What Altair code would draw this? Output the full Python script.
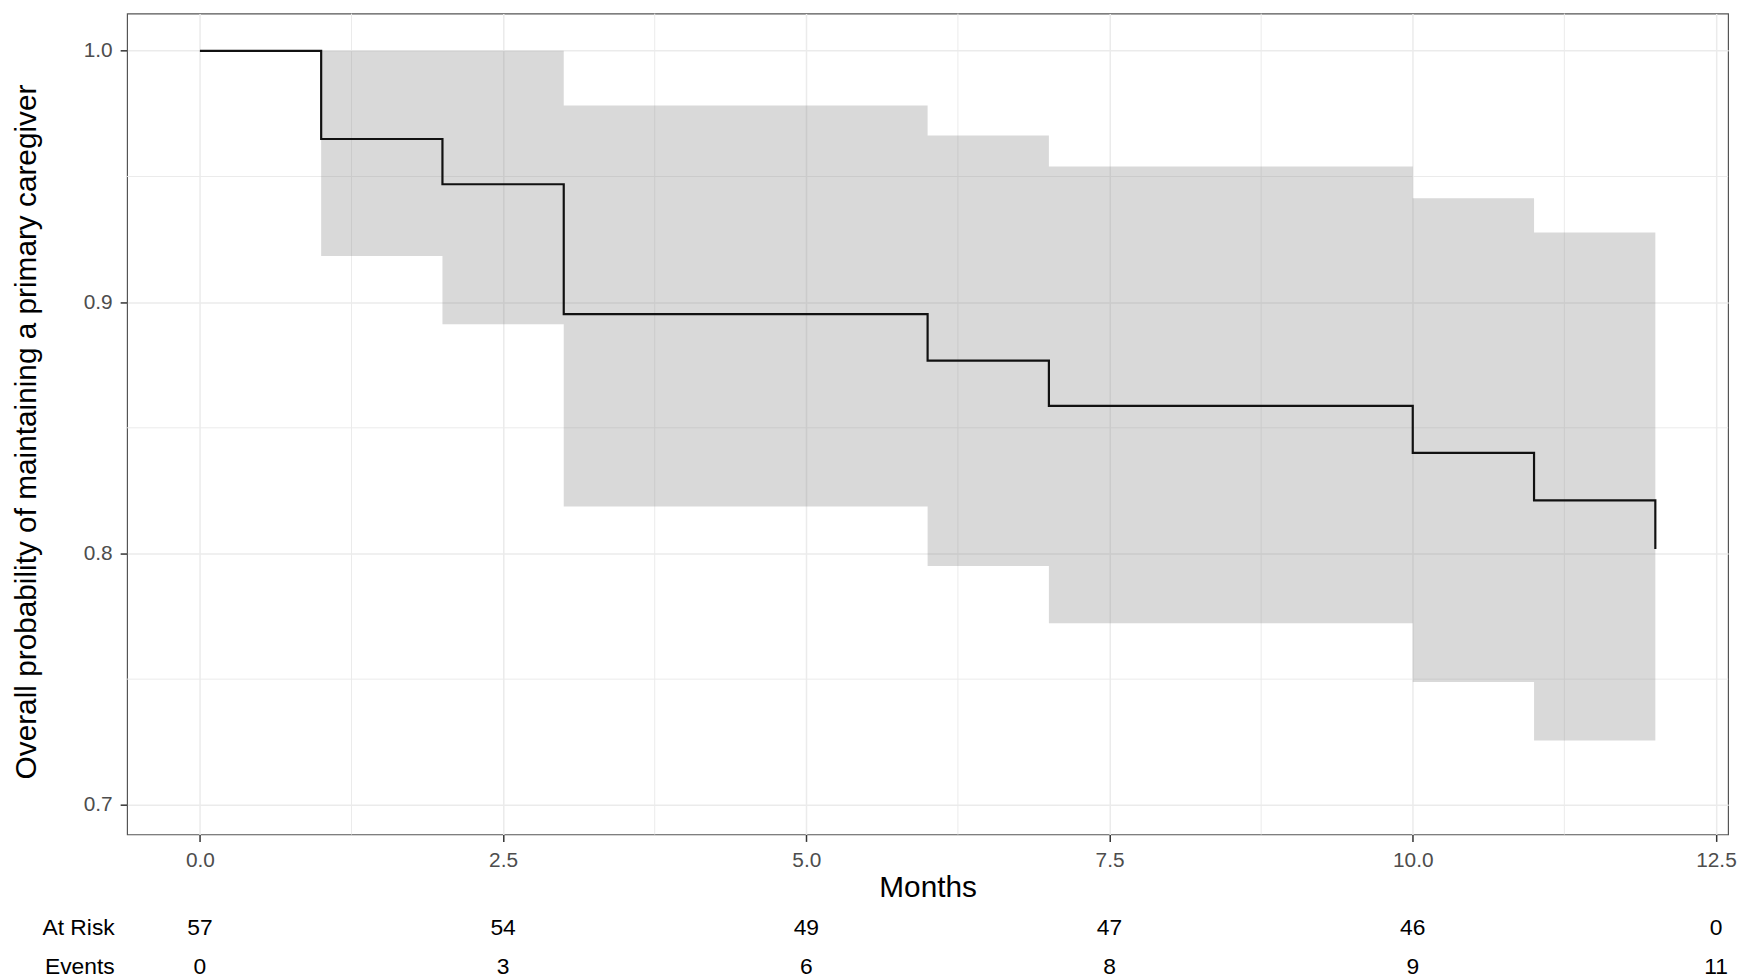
import altair as alt
import pandas as pd

# ---- data ----
time = [0, 1, 2, 3, 6, 7, 10, 11, 12]
surv = [1.0, 0.9649, 0.9469, 0.8952, 0.8767, 0.8587, 0.8400, 0.8211, 0.8018]

band_time = [1, 2, 3, 6, 7, 10, 11, 12]
lower = [0.9184, 0.8912, 0.8187, 0.7950, 0.7722, 0.7489, 0.7256, 0.7256]
upper = [1.0, 1.0, 0.9782, 0.9663, 0.9540, 0.9413, 0.9277, 0.9277]

x_ticks = [0, 2.5, 5, 7.5, 10, 12.5]
y_ticks = [0.7, 0.8, 0.9, 1.0]
minor_x = [1.25, 3.75, 6.25, 8.75, 11.25]
minor_y = [0.75, 0.85, 0.95]

table_x = [0, 2.5, 5, 7.5, 10, 12.5]
at_risk = [57, 54, 49, 47, 46, 0]
events = [0, 3, 6, 8, 9, 11]
row_names = ["At Risk", "Events"]

FONT = "Liberation Sans"

x_scale = alt.Scale(domain=[-0.6, 12.6], nice=False, zero=False)
y_scale = alt.Scale(domain=[0.6882, 1.0148], nice=False, zero=False)

x_axis = alt.Axis(
    values=x_ticks, format=".1f", title="Months", grid=True,
    gridColor="#EBEBEB", gridWidth=1.5, domain=False,
    tickColor="#333333", tickWidth=1.5, tickSize=7, labelPadding=8,
    labelFontSize=21, labelColor="#4D4D4D", labelFont=FONT, labelFlush=False,
    titleFont=FONT, titleFontSize=30, titleFontWeight="normal",
    titleColor="#000000", titleY=39, titleBaseline="top",
)
y_axis = alt.Axis(
    values=y_ticks, format=".1f",
    title="Overall probability of maintaining a primary caregiver",
    grid=True, gridColor="#EBEBEB", gridWidth=1.5, domain=False,
    tickColor="#333333", tickWidth=1.5, tickSize=7, labelPadding=8,
    labelFontSize=21, labelColor="#4D4D4D", labelFont=FONT,
    titleFont=FONT, titleFontSize=30, titleFontWeight="normal",
    titleColor="#000000", titleX=-86, titleY=421,
)

line_df = pd.DataFrame({"month": time, "surv": surv})
band_df = pd.DataFrame({"month": band_time, "lower": lower, "upper": upper})
minor_x_df = pd.DataFrame({"month": minor_x})
minor_y_df = pd.DataFrame({"surv": minor_y})

minor_v = alt.Chart(minor_x_df).mark_rule(color="#EBEBEB", strokeWidth=1).encode(
    x=alt.X("month:Q", scale=x_scale, axis=x_axis)
)
minor_h = alt.Chart(minor_y_df).mark_rule(color="#EBEBEB", strokeWidth=1).encode(
    y=alt.Y("surv:Q", scale=y_scale, axis=y_axis)
)
band = alt.Chart(band_df).mark_area(
    interpolate="step-after", color="#808080", fillOpacity=0.3
).encode(
    x=alt.X("month:Q", scale=x_scale, axis=x_axis),
    y=alt.Y("lower:Q", scale=y_scale, axis=y_axis),
    y2="upper:Q",
)
line = alt.Chart(line_df).mark_line(
    interpolate="step-after", color="#111111", strokeWidth=2.2
).encode(
    x=alt.X("month:Q", scale=x_scale, axis=x_axis),
    y=alt.Y("surv:Q", scale=y_scale, axis=y_axis),
)

main = alt.layer(minor_v, minor_h, band, line).properties(
    width=1613, height=827,
    view=alt.ViewBackground(stroke="#555555", strokeWidth=1.2),
)

table_df = pd.DataFrame({
    "month": table_x + table_x,
    "row": [row_names[0]] * len(table_x) + [row_names[1]] * len(table_x),
    "value": at_risk + events,
})
table = alt.Chart(table_df).mark_text(
    fontSize=23, font=FONT, color="#000000", baseline="middle", align="center"
).encode(
    x=alt.X("month:Q", scale=x_scale, axis=None),
    y=alt.Y("row:N", sort=row_names,
            scale=alt.Scale(type="point", padding=0.25),
            axis=alt.Axis(title=None, domain=False, ticks=False, tickSize=0,
                          grid=False, labelPadding=13, labelFontSize=23,
                          labelFont=FONT, labelColor="#000000")),
    text=alt.Text("value:Q", format="d"),
).properties(width=1613, height=59)

chart = alt.vconcat(main, table, spacing=84, bounds="flush").properties(
    padding={"left": 3, "top": 0, "right": 5, "bottom": 0}
).configure(font=FONT).configure_view(strokeWidth=0)

chart.save("out.html", embed_options={"renderer": "svg", "actions": False})
